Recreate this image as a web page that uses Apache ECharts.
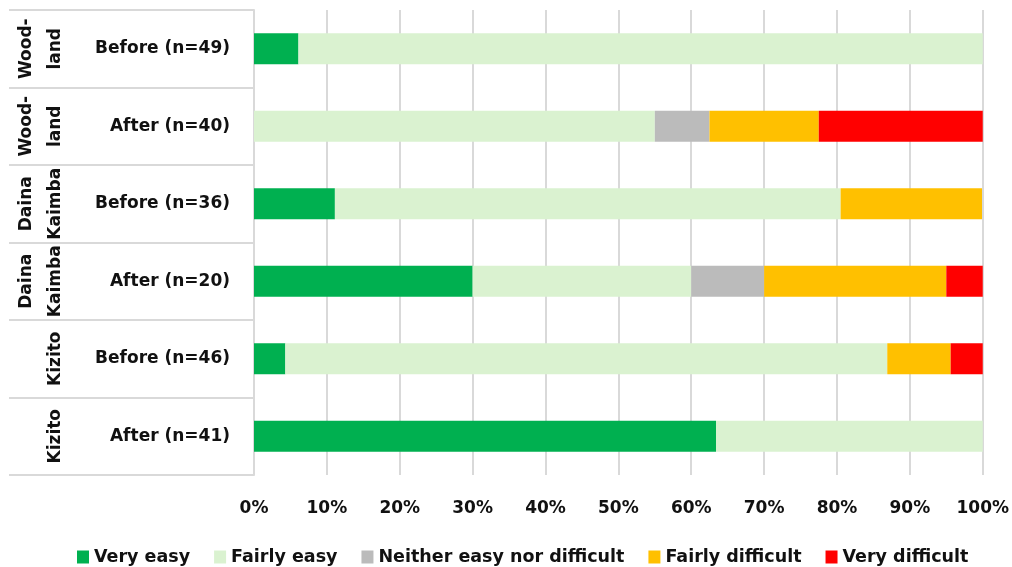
<!DOCTYPE html>
<html>
<head>
<meta charset="utf-8">
<script src="https://cdn.jsdelivr.net/npm/echarts@6/dist/echarts.min.js"></script>
<style>
  html, body { margin: 0; padding: 0; background: #fff; }
  #chart { width: 1012px; height: 567px; }
</style>
</head>
<body>
<div id="chart"></div>
<script>
// categories, top to bottom
const groups = ['Wood-\nland', 'Wood-\nland', 'Daina\nKaimba', 'Daina\nKaimba', 'Kizito', 'Kizito'];
const rows = ['Before (n=49)', 'After (n=40)', 'Before (n=36)', 'After (n=20)', 'Before (n=46)', 'After (n=41)'];

// share of answers, %
const veryEasy = [6.1, 0, 11.1, 30, 4.3, 63.4];
const fairlyEasy = [93.9, 55, 69.4, 30, 82.6, 36.6];
const neither = [0, 7.5, 0, 10, 0, 0];
const fairlyDifficult = [0, 15, 19.4, 25, 8.7, 0];
const veryDifficult = [0, 22.5, 0, 5, 4.4, 0];

const seriesNames = ['Very easy', 'Fairly easy', 'Neither easy nor difficult', 'Fairly difficult', 'Very difficult'];
const seriesData = [veryEasy, fairlyEasy, neither, fairlyDifficult, veryDifficult];
const colors = ['#00B050', '#DAF2D0', '#BBBBBB', '#FFC000', '#FF0000'];

const font = 'DejaVu Sans';
const chart = echarts.init(document.getElementById('chart'));

chart.setOption({
  animation: false,
  textStyle: { fontFamily: font },
  grid: { left: 254, right: 27, top: 10, bottom: 92 },
  legend: {
    top: 543,
    left: 72,
    itemWidth: 12,
    itemHeight: 13,
    itemGap: 24,
    icon: 'rect',
    textStyle: { fontFamily: font, fontWeight: 'bold', fontSize: 17.5, color: '#111' },
    data: seriesNames
  },
  xAxis: {
    type: 'value',
    min: 0,
    max: 100,
    interval: 10,
    axisLine: { show: false },
    axisTick: { show: false },
    splitLine: { lineStyle: { color: '#d9d9d9', width: 2 } },
    axisLabel: {
      formatter: '{value}%',
      margin: 25,
      fontSize: 17,
      fontWeight: 'bold',
      color: '#111'
    }
  },
  yAxis: [
    {
      type: 'category',
      inverse: true,
      data: rows,
      axisLine: { show: true, lineStyle: { color: '#d9d9d9', width: 2 } },
      axisTick: { show: true, length: 245, lineStyle: { color: '#d9d9d9', width: 2 } },
      axisLabel: { margin: 24, fontSize: 17, fontWeight: 'bold', color: '#111' }
    },
    {
      type: 'category',
      inverse: true,
      position: 'left',
      offset: 184,
      data: groups,
      axisLine: { show: false },
      axisTick: { show: false },
      axisLabel: { interval: 0, rotate: 90, margin: 0, fontSize: 17, fontWeight: 'bold', lineHeight: 29, color: '#111' }
    }
  ],
  series: seriesNames.map((name, i) => ({
    name: name,
    type: 'bar',
    stack: 'total',
    barWidth: 31,
    yAxisIndex: 0,
    itemStyle: { color: colors[i] },
    data: seriesData[i]
  }))
});
</script>
</body>
</html>
